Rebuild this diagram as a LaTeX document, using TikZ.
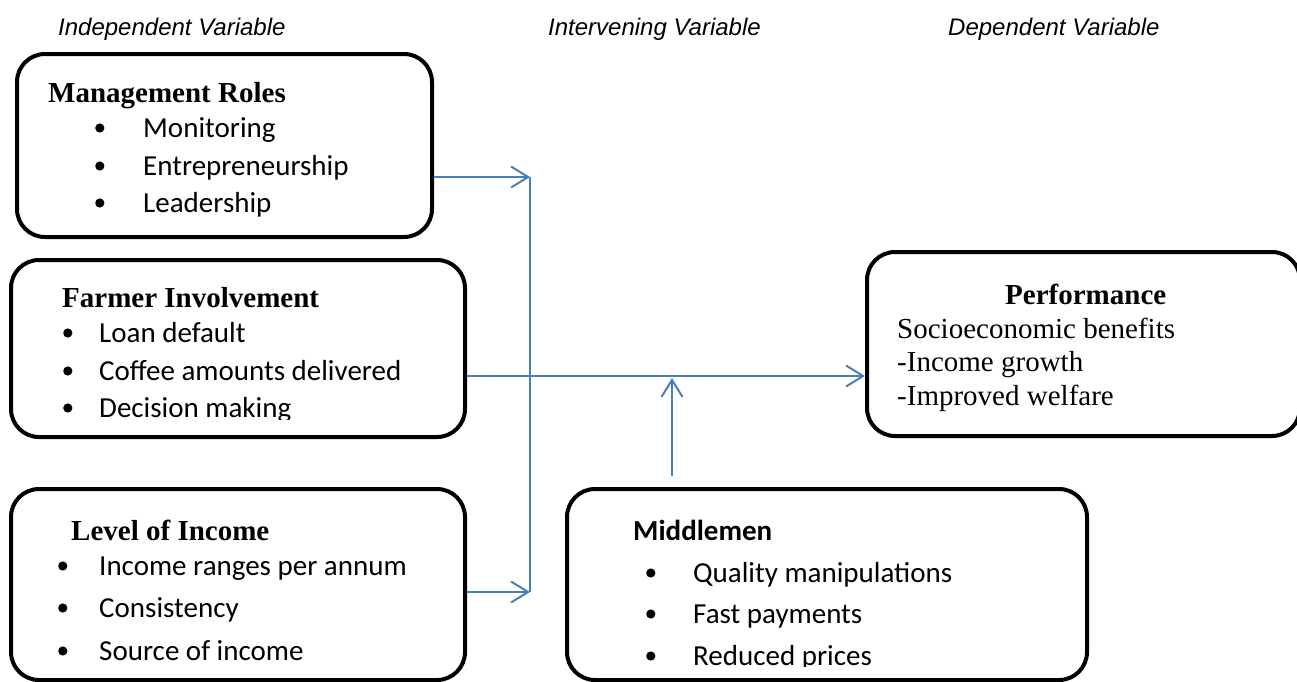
\documentclass[tikz,border=0pt]{standalone}
\usepackage{fontspec}
\setmainfont{Liberation Serif}
\newfontfamily\calibrifont{Carlito}
\newfontfamily\arialfont{Liberation Sans}
\usetikzlibrary{arrows.meta}
\definecolor{linkblue}{RGB}{74,126,187}
\newcommand{\itemdot}{\tikz[baseline=-9pt]\fill[black] (0,0) circle (4.6pt);}

\begin{document}
\begin{tikzpicture}
  [x=1pt,y=-1pt,inner sep=0pt]
      \tikzstyle{box_style} = [draw=black, line width=4pt, rounded corners=28pt]
      \tikzstyle{link_line} = [draw=linkblue, line width=2pt]
      \tikzstyle{link_style} = [link_line, -{Straight Barb[length=17pt,width=21pt,line width=2pt]}]
      \tikzstyle{head_text} = [font=\arialfont\itshape\fontsize{24}{28}\selectfont, anchor=base west]
      \tikzstyle{title_text} = [font=\bfseries\fontsize{29}{34}\selectfont, anchor=base west]
      \tikzstyle{plain_text} = [font=\fontsize{29}{34}\selectfont, anchor=base west]
      \tikzstyle{item_text} = [font=\calibrifont\fontsize{29}{34}\selectfont, anchor=base west]
  \useasboundingbox (0,0) rectangle (1297,681);
  % headings
  \node[head_text] (indep) at (58,35) {Independent Variable};
  \node[head_text] (interv) at (548,35) {Intervening Variable};
  \node[head_text] (dep) at (948,35) {Dependent Variable};
  % boxes
  \node[box_style, minimum width=415pt, minimum height=183pt] (mgmt) at (224.5,145.5) {};
  \node[box_style, minimum width=454pt, minimum height=177pt] (farm) at (238,348.5) {};
  \node[box_style, minimum width=454pt, minimum height=191pt] (income) at (238,584.5) {};
  \node[box_style, minimum width=520pt, minimum height=191pt] (middle) at (827,584.5) {};
  \node[box_style, minimum width=433pt, minimum height=184pt] (perf) at (1083.5,344) {};
  % management roles
  \node[title_text] (mgmt_title) at (48,102) {Management Roles};
  \node[item_text] (mgmt1) at (95,137) {\makebox[48pt][l]{\itemdot}Monitoring};
  \node[item_text] (mgmt2) at (95,175) {\makebox[48pt][l]{\itemdot}Entrepreneurship};
  \node[item_text] (mgmt3) at (95,212) {\makebox[48pt][l]{\itemdot}Leadership};
  % farmer involvement
  \node[title_text] (farm_title) at (62,307) {Farmer Involvement};
  \node[item_text] (farm1) at (63,342) {\makebox[36pt][l]{\itemdot}Loan default};
  \node[item_text] (farm2) at (63,380) {\makebox[36pt][l]{\itemdot}Coffee amounts delivered};
  \begin{scope}
    \clip (0,0) rectangle (1297,419);
    \node[item_text] (farm3) at (63,417) {\makebox[36pt][l]{\itemdot}Decision making};
  \end{scope}
  % level of income
  \node[title_text] (income_title) at (71,540) {Level of Income};
  \node[item_text] (income1) at (58,575) {\makebox[41pt][l]{\itemdot}Income ranges per annum};
  \node[item_text] (income2) at (58,617) {\makebox[41pt][l]{\itemdot}Consistency};
  \node[item_text] (income3) at (58,660) {\makebox[41pt][l]{\itemdot}Source of income};
  % middlemen
  \node[item_text, font=\calibrifont\bfseries\fontsize{29}{34}\selectfont] (middle_title) at (633,540) {Middlemen};
  \node[item_text] (middle1) at (646,582) {\makebox[47pt][l]{\itemdot}Quality manipulations};
  \node[item_text] (middle2) at (646,623) {\makebox[47pt][l]{\itemdot}Fast payments};
  \begin{scope}
    \clip (0,0) rectangle (1297,666);
    \node[item_text] (middle3) at (646,665) {\makebox[47pt][l]{\itemdot}Reduced prices};
  \end{scope}
  % performance
  \node[title_text] (perf_title) at (1005,304) {Performance};
  \node[plain_text] (perf1) at (897,338) {Socioeconomic benefits};
  \node[plain_text] (perf2) at (897,371) {-Income growth};
  \node[plain_text] (perf3) at (897,405) {-Improved welfare};
  % connectors
  \coordinate (bus_top) at (530,177);
  \coordinate (bus_bottom) at (530,592);
  \coordinate (feed) at (672,376);
  \draw[link_style] (mgmt.east |- bus_top) -- (bus_top);
  \draw[link_line] (bus_top) -- (bus_bottom);
  \draw[link_style] (income.east |- bus_bottom) -- (bus_bottom);
  \draw[link_style] (farm.east |- feed) -- (perf.west |- feed);
  \draw[link_style] ([yshift=11pt]middle.north -| feed) -- ([yshift=-2pt]feed);
\end{tikzpicture}
\end{document}
